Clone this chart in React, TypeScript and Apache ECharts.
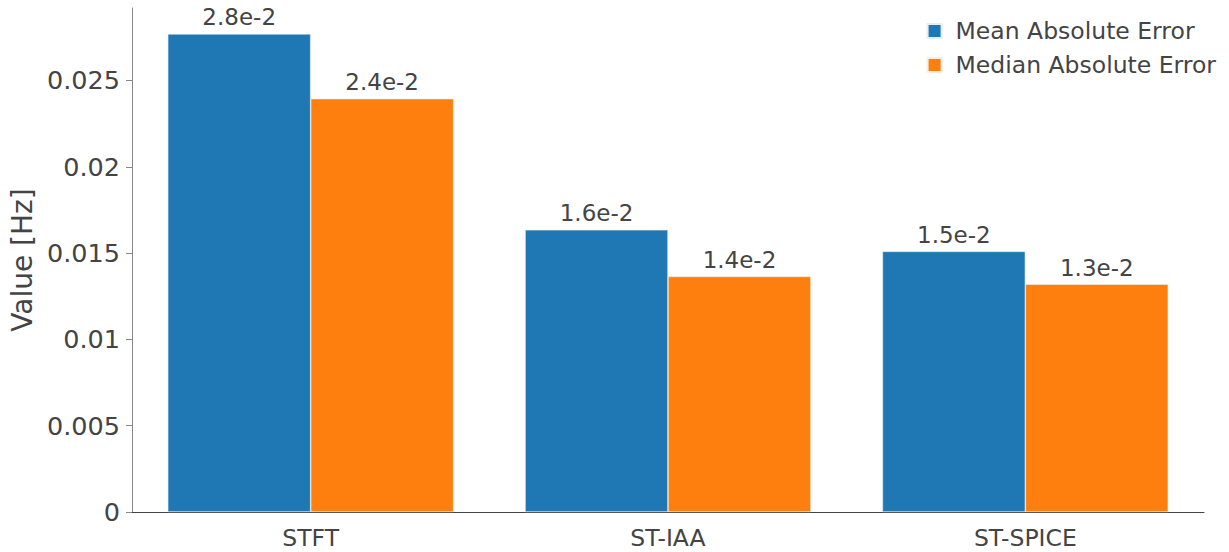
import React, { useEffect, useRef } from "react";
import * as echarts from "echarts";

const categories = ["STFT", "ST-IAA", "ST-SPICE"];
const meanAbsErr = [0.0277, 0.01635, 0.0151];
const medianAbsErr = [0.02395, 0.01365, 0.0132];
const seriesNames = ["Mean Absolute Error", "Median Absolute Error"];

const FONT = "DejaVu Sans";

export default function App() {
  const ref = useRef<HTMLDivElement>(null);
  useEffect(() => {
    document.body.style.margin = "0";
    if (!ref.current) return;
    const chart = echarts.init(ref.current, undefined, { renderer: "svg" });
    const label = {
      show: true,
      position: "top" as const,
      distance: 5,
      color: "#444",
      fontFamily: FONT,
      fontSize: 23,
      formatter: (p: any) => (p.value as number).toExponential(1).replace("e+", "e"),
    };
    chart.setOption({
      animation: false,
      textStyle: { fontFamily: FONT },
      grid: {
        left: 132,
        right: 25,
        top: 8,
        bottom: 40,
        containLabel: false,
        outerBoundsMode: "none",
      },
      legend: {
        orient: "vertical",
        right: 8,
        top: 14,
        itemWidth: 14,
        itemHeight: 14,
        itemGap: 10,
        icon: "rect",
        textStyle: { fontFamily: FONT, fontSize: 23.5, color: "#444", padding: [0, 0, 0, 9] },
        data: seriesNames,
      },
      xAxis: {
        type: "category",
        data: categories,
        axisLine: { lineStyle: { color: "#444", width: 1 } },
        axisTick: { alignWithLabel: true, length: 5, lineStyle: { color: "#888" } },
        axisLabel: { fontFamily: FONT, fontSize: 23.5, color: "#444", margin: 14 },
      },
      yAxis: {
        type: "value",
        min: 0,
        max: 0.0292,
        interval: 0.005,
        name: "Value [Hz]",
        nameLocation: "middle",
        nameGap: 95,
        nameTextStyle: { fontFamily: FONT, fontSize: 28, color: "#444" },
        splitLine: { show: false },
        axisLine: { show: true, lineStyle: { color: "#888" } },
        axisTick: { show: true, length: 6, lineStyle: { color: "#888" } },
        axisLabel: {
          fontFamily: FONT,
          fontSize: 25.5,
          color: "#444",
          margin: 12,
          showMaxLabel: false,
          formatter: (v: number) => (v === 0 ? "0" : String(parseFloat(v.toFixed(4)))),
        },
      },
      series: [
        {
          name: seriesNames[0],
          type: "bar",
          data: meanAbsErr,
          barGap: "0%",
          barCategoryGap: "20%",
          itemStyle: { color: "#1f77b4", borderColor: "#e6eef5", borderWidth: 0.6 },
          label,
        },
        {
          name: seriesNames[1],
          type: "bar",
          data: medianAbsErr,
          barGap: "0%",
          barCategoryGap: "20%",
          itemStyle: { color: "#ff7f0e", borderColor: "#fbeee0", borderWidth: 0.6 },
          label,
        },
      ],
    });
    return () => chart.dispose();
  }, []);
  return <div ref={ref} style={{ width: 1229, height: 552 }} />;
}
